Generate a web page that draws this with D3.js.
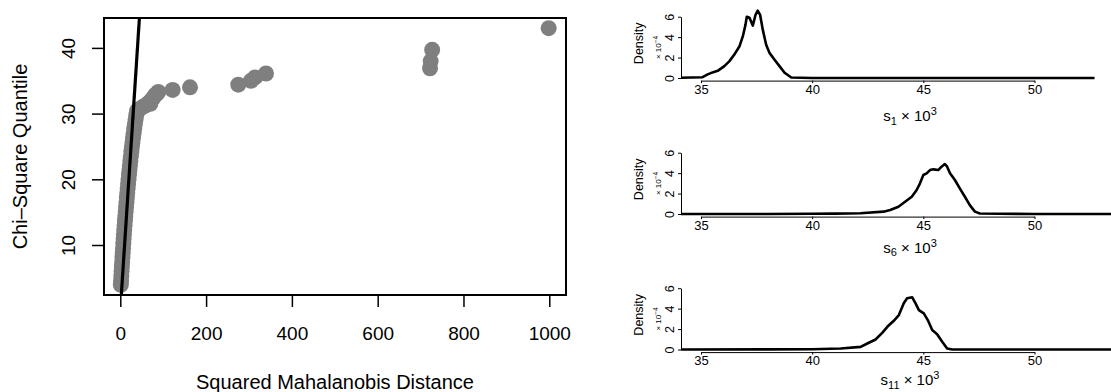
<!DOCTYPE html>
<html><head><meta charset="utf-8">
<script src="https://cdn.jsdelivr.net/npm/d3@7"></script>
<style>
body{margin:0;background:#fff;}
svg{display:block;font-family:"Liberation Sans",Arial,Helvetica,sans-serif;}
</style></head>
<body><svg id="c" width="1111" height="392"></svg>
<script>
// ---- Left panel: Chi-square Q-Q plot ----
const mahalanobis = [1.2,1.8,2.4,3.0,3.6,4.3,5.0,5.6,6.3,7.0,7.7,8.4,9.2,10.0,10.8,11.7,12.6,13.5,14.4,15.3,16.2,17.2,18.2,19.2,20.2,21.3,22.4,23.5,24.6,25.8,27.0,28.3,29.6,31.0,32.5,34.0,35.6,37.3,39,45,53,58,65.3,70,73,77,81,85,88.6,122,162.5,275,304.7,314,339.6,722,723.5,727,998.6];
const chiQuantile = [3.95,4.6,5.3,6.0,6.7,7.4,8.1,8.8,9.5,10.2,10.9,11.6,12.3,13.0,13.7,14.4,15.1,15.8,16.5,17.2,17.9,18.6,19.3,20.0,20.7,21.4,22.1,22.8,23.5,24.2,24.9,25.6,26.3,27.0,27.7,28.4,29.1,29.8,30.4,30.7,31.05,31.2,31.6,31.5,32.1,32.4,32.8,33.0,33.3,33.6,34.0,34.4,35.0,35.5,36.1,36.9,38.0,39.7,43.0];
const xTicksLeft = [0,200,400,600,800,1000];
const yTicksLeft = [10,20,30,40];
const refLine = [2.39, 44.55]; // y = x reference line

// ---- Right panels: density curves (values x 10^-4) ----
const s1x = [34.1,35.07,35.3,35.52,35.75,36.05,36.28,36.5,36.73,36.88,37.0,37.06,37.18,37.33,37.45,37.55,37.66,37.78,37.93,38.08,38.3,38.53,38.76,39.06,40,45,50,52.7];
const s1y = [0.02,0.08,0.35,0.55,0.7,1.16,1.65,2.3,3.1,4.07,5.2,6.0,5.9,5.13,6.17,6.6,6.17,4.71,3.26,2.46,1.81,1.16,0.52,0.05,0,0,0,0];
const s6x = [34.1,38,40,41,42.17,43.21,43.51,43.88,44.18,44.48,44.7,44.85,45.0,45.15,45.3,45.45,45.67,45.82,45.97,46.07,46.2,46.42,46.64,46.87,47.09,47.32,47.54,50,54];
const s6y = [0,0.005,0.02,0.04,0.07,0.23,0.39,0.71,1.2,1.69,2.35,3.0,3.82,3.98,4.3,4.37,4.3,4.63,4.89,4.63,3.98,3.33,2.51,1.69,0.87,0.23,0.05,0,0];
const s11x = [34.1,38,40,41.28,42.18,42.48,42.85,43.15,43.38,43.67,43.9,44.12,44.27,44.5,44.65,44.8,45.02,45.2,45.4,45.62,45.85,46.07,46.3,50,54];
const s11y = [0,0.01,0.03,0.1,0.26,0.59,0.98,1.63,2.22,2.81,3.37,4.52,5.01,5.11,4.52,3.86,3.54,2.88,1.9,1.5,0.75,0.1,0,0,0];
const xTicksRight = [35,40,45,50];
const yTicksRight = [0,2,4,6];
const panelNames = ["1","6","11"];

const svg = d3.select("#c");
const FONT = "Liberation Sans, Arial, sans-serif";

// ===== Left plot =====
const xL = d3.scaleLinear().domain([-38, 1039]).range([104, 566]);
const yL = d3.scaleLinear().domain([2.39, 44.55]).range([295, 18]);
const L = svg.append("g");
L.append("defs").append("clipPath").attr("id","clipL").append("rect")
  .attr("x",104).attr("y",18).attr("width",462).attr("height",277);
const pts = mahalanobis.map((d,i)=>[d, chiQuantile[i]]);
L.append("g").attr("clip-path","url(#clipL)").selectAll("circle").data(pts).join("circle")
  .attr("cx",d=>xL(d[0])).attr("cy",d=>yL(d[1])).attr("r",8).attr("fill","#7f7f7f");
L.append("line").attr("clip-path","url(#clipL)")
  .attr("x1",xL(refLine[0])).attr("y1",yL(refLine[0])).attr("x2",xL(refLine[1])).attr("y2",yL(refLine[1]))
  .attr("stroke","#000").attr("stroke-width",3.2);
L.append("rect").attr("x",104).attr("y",18).attr("width",462).attr("height",277)
  .attr("fill","none").attr("stroke","#000").attr("stroke-width",2);

const axB = L.append("g").attr("transform","translate(0,296)")
  .call(d3.axisBottom(xL).tickValues(xTicksLeft).tickSize(11).tickSizeOuter(0).tickFormat(d3.format("d")));
axB.select(".domain").remove();
axB.selectAll(".tick line").attr("stroke","#000").attr("stroke-width",1.5);
axB.selectAll(".tick text").attr("y",44).attr("dy",0).attr("fill","#000")
  .style("font-size","19px").style("font-family",FONT);

const axLft = L.append("g").attr("transform","translate(104,0)")
  .call(d3.axisLeft(yL).tickValues(yTicksLeft).tickSize(12).tickSizeOuter(0).tickFormat(d3.format("d")));
axLft.select(".domain").remove();
axLft.selectAll(".tick line").attr("stroke","#000").attr("stroke-width",1.5);
axLft.selectAll(".tick text").attr("x",null).attr("dy",0)
  .attr("transform","translate(-29,0) rotate(-90)").attr("text-anchor","middle").attr("fill","#000")
  .style("font-size","19px").style("font-family",FONT);

L.append("text").attr("x",335).attr("y",389).attr("text-anchor","middle")
  .style("font-size","20px").text("Squared Mahalanobis Distance");
L.append("text").attr("transform","translate(27,156.5) rotate(-90)").attr("text-anchor","middle")
  .style("font-size","20px").text("Chi–Square Quantile");

// ===== Right plots =====
const xR = d3.scaleLinear().domain([35,50]).range([701, 1034.5]);
const offsets = [0, 136, 271.5];
const titleBase = [121, 252.5, 385];
const series = [[s1x,s1y],[s6x,s6y],[s11x,s11y]];
series.forEach((s,i)=>{
  const off = offsets[i];
  const yR = d3.scaleLinear().domain([0,6]).range([78 + off, 16.7 + off]);
  const g = svg.append("g");
  const ax = g.append("g").attr("transform",`translate(0,${80.6+off})`)
    .call(d3.axisBottom(xR).tickValues(xTicksRight).tickSize(2.5).tickSizeOuter(0).tickFormat(d3.format("d")));
  ax.select(".domain").attr("stroke","#000").attr("stroke-width",1);
  ax.selectAll(".tick line").attr("stroke","#000");
  ax.selectAll(".tick text").attr("y",13).attr("dy",0).attr("fill","#000").style("font-size","13px")
    .style("font-family",FONT);
  const ay = g.append("g").attr("transform","translate(681,0)")
    .call(d3.axisLeft(yR).tickValues(yTicksRight).tickSize(3).tickSizeOuter(0).tickFormat(d3.format("d")));
  ay.select(".domain").attr("stroke","#000").attr("stroke-width",1);
  ay.selectAll(".tick line").attr("stroke","#000");
  ay.selectAll(".tick text").attr("x",null).attr("dy",0)
    .attr("transform","translate(-7,0) rotate(-90)").attr("text-anchor","middle").attr("fill","#000")
    .style("font-size","12.5px").style("font-family",FONT);
  const line = d3.line().x(d=>xR(d[0])).y(d=>yR(d[1]));
  g.append("path").datum(s[0].map((v,j)=>[v,s[1][j]])).attr("d",line)
    .attr("fill","none").attr("stroke","#000").attr("stroke-width",2.6).attr("stroke-linejoin","round");
  g.append("text").attr("transform",`translate(643,${43.3+off}) rotate(-90)`).attr("text-anchor","middle")
    .style("font-size","12.5px").text("Density");
  const t2 = g.append("text").attr("transform",`translate(661,${47.5+off}) rotate(-90)`).attr("text-anchor","middle")
    .style("font-size","8px");
  t2.append("tspan").text("× 10");
  t2.append("tspan").attr("dy",-3.5).style("font-size","6.5px").text("−4");
  const t = g.append("text").attr("x",910).attr("y",titleBase[i]).attr("text-anchor","middle").style("font-size","15px");
  t.append("tspan").text("s");
  t.append("tspan").attr("dy",3.5).style("font-size","11px").text(panelNames[i]);
  t.append("tspan").attr("dy",-3.5).text(" × 10");
  t.append("tspan").attr("dy",-6).style("font-size","11px").text("3");
});
</script></body></html>
